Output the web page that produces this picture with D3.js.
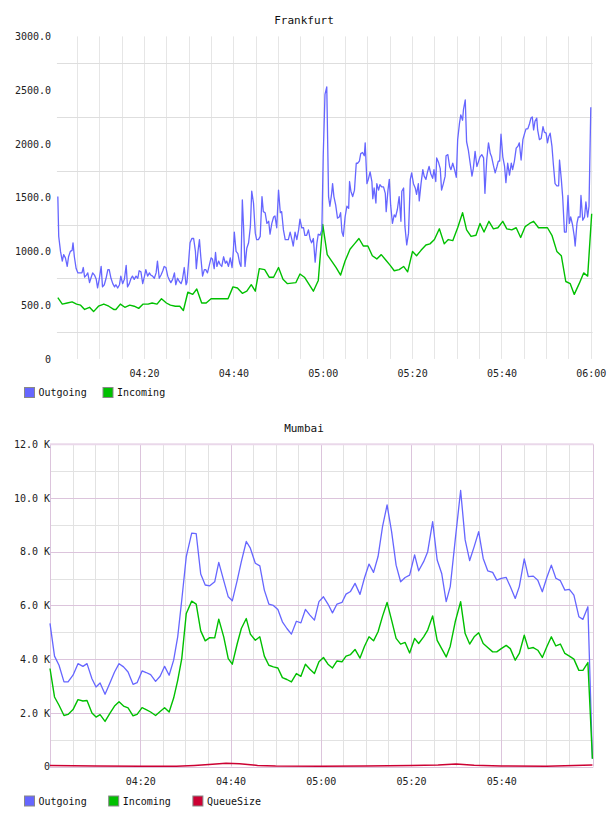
<!DOCTYPE html>
<html>
<head>
<meta charset="utf-8">
<script src="https://cdn.jsdelivr.net/npm/d3@7"></script>
<style>
  body { margin: 0; background: #fff; }
  text { font-family: "DejaVu Sans Mono", monospace; }
</style>
</head>
<body>
<div id="chart-container"></div>
<script>
const WIDTH = 608;
const HEIGHT = 816;

// time axis (minutes after 04:00)
const timeTicks = [20, 40, 60, 80, 100, 120];
const timeTickLabels = ["04:20", "04:40", "05:00", "05:20", "05:40", "06:00"];

// ---------- Frankfurt ----------
const frankfurtYTicks = [0, 500, 1000, 1500, 2000, 2500, 3000];
const frankfurtYGrid = [250, 750, 1250, 1750, 2250, 2750];

const frankfurtOutMinutes = [
  0.7,0.9,1.3,1.7,2.0,2.4,2.8,3.1,3.5,3.9,
  4.1,4.4,4.8,5.2,5.6,6.1,6.4,6.7,7.1,7.4,
  7.8,8.1,8.5,8.9,9.3,9.6,10.0,10.4,10.7,11.1,
  11.5,11.9,12.2,12.6,13.0,13.4,13.7,14.1,14.5,14.8,
  15.2,15.6,16.0,16.3,16.7,17.1,17.4,17.8,18.2,18.6,
  18.9,19.3,19.7,20.1,20.4,20.8,21.2,21.5,21.9,22.3,
  22.7,23.0,23.4,23.8,24.2,24.5,24.9,25.3,25.6,26.0,
  26.4,26.8,27.1,27.5,27.9,28.3,28.6,29.0,29.4,29.6,
  30.0,30.3,30.7,31.1,31.5,31.7,32.1,32.4,32.7,33.1,
  33.5,33.8,34.2,34.6,35.0,35.3,35.7,36.0,36.3,36.7,
  37.0,37.4,37.8,38.2,38.5,38.9,39.3,39.7,40.0,40.2,
  40.6,41.0,41.4,41.7,42.0,42.3,42.6,43.0,43.4,43.8,
  44.1,44.5,44.9,45.2,45.6,46.0,46.4,46.7,47.1,47.5,
  47.9,48.2,48.6,49.0,49.3,49.7,50.1,50.5,50.8,51.2,
  51.6,51.9,52.3,52.7,53.1,53.4,53.8,54.2,54.6,54.9,
  55.3,55.7,56.0,56.4,56.8,57.2,57.5,57.9,58.3,58.7,
  59.0,59.4,59.8,60.1,60.5,60.9,
  61.3,61.6,62.0,62.2,62.5,62.9,63.3,63.7,64.0,64.3,
  64.6,65.0,65.4,65.8,66.0,66.3,66.7,67.1,67.5,67.8,
  68.2,68.5,68.9,69.3,69.5,69.9,70.2,70.6,71.0,71.2,
  71.5,71.9,72.1,72.5,72.8,73.2,73.6,74.0,74.2,74.6,
  74.9,75.2,75.6,76.0,76.3,76.7,77.1,77.5,77.7,78.1,
  78.4,78.8,79.2,79.6,79.9,80.3,80.7,81.0,81.4,81.6,
  82.0,82.4,82.7,83.1,83.4,83.8,84.2,84.6,84.9,85.3,
  85.5,85.9,86.3,86.6,87.0,87.4,87.6,88.0,88.4,88.7,
  89.1,89.5,89.9,90.2,90.6,90.9,91.3,91.5,91.9,92.2,
  92.6,93.0,93.4,93.7,94.1,94.5,94.9,95.2,95.6,96.0,
  96.3,96.7,97.1,97.5,97.8,98.2,98.6,99.0,99.3,99.6,
  99.9,100.3,100.7,101.0,101.4,101.8,102.2,102.5,102.9,103.3,
  103.7,104.0,104.4,104.8,105.2,105.5,105.9,106.3,106.6,106.9,
  107.2,107.5,107.9,108.1,108.5,108.9,109.3,109.6,110.0,110.3,
  110.6,110.9,111.3,111.6,112.0,112.4,112.8,113.0,113.4,113.7,
  114.1,114.5,114.9,115.2,115.5,115.9,116.3,116.5,116.9,117.2,
  117.6,117.8,118.2,118.6,118.9,119.3,119.6,120.0
];
const frankfurtOutValues = [
  1510,1140,1000,910,970,940,860,950,1000,1010,
  1080,950,840,800,800,800,850,760,780,800,
  710,750,800,780,740,660,750,860,670,690,
  750,830,830,750,700,670,690,660,690,770,
  700,740,870,670,700,750,770,740,770,750,
  820,810,700,770,830,770,800,780,770,750,
  800,910,750,780,820,860,850,770,740,710,
  740,800,690,750,720,700,740,850,690,710,
  920,1080,1120,1120,1000,840,1010,1110,950,770,
  830,830,800,870,940,930,840,990,860,910,
  880,860,950,890,910,860,940,850,1010,1180,
  1000,980,890,860,1480,1200,860,1030,1080,1230,
  1560,1450,1170,1110,1110,1140,1510,1370,1360,1260,
  1280,1160,1260,1320,1330,1220,1570,1360,1370,1200,
  1110,1110,1110,1180,1110,1050,1180,1110,1200,1300,
  1220,1220,1150,1150,1200,1110,1080,1120,900,1080,
  1160,1150,1200,1880,2460,2530,
  1510,1420,1540,1630,1510,1430,1310,1320,1360,1180,
  1140,1320,1420,1400,1650,1560,1510,1570,1820,1820,
  1840,1910,1920,1890,2010,1630,1670,1740,1650,1490,
  1590,1450,1630,1570,1620,1600,1600,1540,1370,1570,
  1670,1430,1260,1340,1320,1390,1510,1280,1560,1590,
  1230,1060,1170,1670,1730,1630,1590,1530,1630,1470,
  1630,1760,1700,1670,1730,1790,1720,1680,1760,1650,
  1870,1830,1770,1570,1630,1700,1890,1900,1790,1760,
  1820,1760,1690,2040,2190,2270,2220,2320,2410,2020,
  1940,1820,1700,1770,1930,1790,1840,1880,1900,1870,
  1540,1850,2010,1910,1880,1800,1730,1790,1840,1840,
  2090,1880,1790,1640,1820,1710,1820,1760,1840,1960,
  1980,2010,1850,2040,2100,2140,2140,2190,2240,2250,
  2130,2210,2240,2130,2040,2050,2160,2110,2100,2010,
  2070,2100,1980,1820,1630,1610,1610,1850,1670,1510,
  1180,1180,1520,1260,1320,1250,1140,1050,1260,1320,
  1320,1520,1290,1320,1460,1320,1420,2340
];

const frankfurtInMinutes = [
  0.7,1.7,2.8,3.9,4.9,5.8,6.7,7.8,8.7,9.8,
  11.0,12.1,13.2,13.7,14.7,15.7,16.8,17.8,18.8,19.8,
  20.9,21.8,22.9,23.9,25.0,25.9,27.0,28.0,28.8,29.8,
  30.9,31.8,32.9,33.9,35.0,36.1,37.2,38.8,39.9,40.9,
  42.0,43.0,44.0,44.9,45.8,47.0,48.0,49.0,50.1,51.1,
  52.1,54.0,54.9,55.9,57.9,59.0,60.0,61.0,62.0,63.0,
  64.0,65.0,66.1,67.1,68.1,69.1,70.1,71.1,72.1,73.1,
  74.1,75.1,76.0,77.1,78.1,79.0,80.1,81.0,82.0,83.1,
  84.0,85.0,86.1,87.2,88.1,89.1,90.2,91.3,92.2,93.2,
  94.3,95.2,96.1,97.2,98.2,99.2,100.3,101.2,102.3,103.3,
  104.3,105.3,106.3,107.2,108.3,109.3,110.3,111.3,112.4,113.4,
  114.4,115.4,116.3,117.4,118.4,119.3,120.2
];
const frankfurtInValues = [
  570,510,520,530,510,500,460,480,440,490,
  510,490,460,460,510,480,500,490,470,510,
  510,520,510,560,520,500,490,490,450,620,
  600,650,520,520,560,560,560,560,670,660,
  610,630,690,630,840,830,760,760,850,740,
  700,710,790,760,630,730,1250,970,910,850,
  780,910,1020,1070,1120,1050,1050,960,930,970,
  920,870,820,830,860,810,1000,960,1010,1060,
  1070,1110,1210,1070,1110,1100,1220,1360,1200,1140,
  1150,1260,1180,1280,1210,1220,1280,1210,1200,1220,
  1130,1230,1260,1280,1220,1220,1220,1150,1000,960,
  720,700,600,700,800,770,1350
];

// ---------- Mumbai (values in thousands) ----------
const mumbaiYTicks = [0, 2, 4, 6, 8, 10, 12];
const mumbaiYMinor = [1, 3, 5, 7, 9, 11];

const mumbaiMinutes = [
  0.0,1.0,2.0,3.1,4.0,5.1,6.2,7.3,8.2,9.3,
  10.2,11.1,12.2,13.3,14.3,15.3,16.3,17.3,18.4,19.3,
  20.4,21.3,22.3,23.4,24.4,25.4,26.4,27.4,28.3,29.2,
  30.2,31.4,32.4,33.4,34.4,35.4,36.5,37.4,38.5,39.5,
  40.4,41.5,42.4,43.5,44.4,45.5,46.5,47.5,48.5,49.5,
  50.5,51.5,52.5,53.5,54.6,55.6,56.6,57.6,58.6,59.6,
  60.6,61.6,62.6,63.6,64.7,65.6,66.6,67.6,68.7,69.7,
  70.7,71.7,72.7,73.7,74.7,75.7,76.7,77.7,78.7,79.7,
  80.8,81.7,82.8,83.7,84.8,85.8,86.8,87.8,88.7,89.8,
  91.0,92.0,93.0,94.0,95.0,96.0,97.0,98.1,99.0,100.0,
  101.1,102.0,103.1,104.0,105.1,106.0,107.1,108.1,109.1,110.1,
  111.1,112.1,113.1,114.1,115.1,116.1,117.2,118.1,119.2,120.2
];
const mumbaiOutValues = [
  5.33,4.11,3.77,3.15,3.15,3.40,3.83,3.73,3.83,3.27,
  2.96,3.11,2.69,3.12,3.52,3.83,3.71,3.52,3.06,3.12,
  3.56,3.50,3.42,3.17,3.36,3.73,3.40,3.96,4.83,6.20,
  7.82,8.69,8.67,7.17,6.76,6.73,6.88,7.60,6.92,6.32,
  6.17,6.94,7.63,8.38,8.13,7.57,7.47,6.57,6.05,6.00,
  5.85,5.39,5.14,4.93,5.41,5.35,5.85,5.64,5.45,6.14,
  6.32,6.05,5.72,6.05,6.11,6.42,6.52,6.82,6.41,7.03,
  7.54,7.23,7.82,8.94,9.74,8.75,7.50,6.88,7.04,7.13,
  7.88,7.29,7.63,8.00,9.12,7.69,7.19,6.14,6.70,8.44,
  10.28,8.44,7.67,8.19,8.75,7.75,7.29,7.23,6.94,7.01,
  7.04,6.70,6.26,6.70,7.73,7.07,7.09,6.94,6.51,7.04,
  7.50,7.01,6.92,6.57,6.60,6.38,5.58,5.48,5.95,0.29
];
const mumbaiInValues = [
  3.65,2.59,2.28,1.90,1.94,2.12,2.49,2.44,2.46,1.99,
  1.84,1.93,1.68,1.99,2.25,2.41,2.25,2.18,1.89,1.94,
  2.19,2.12,2.03,1.90,2.05,2.19,2.03,2.55,3.21,4.02,
  5.70,6.16,6.05,5.05,4.68,4.80,4.79,5.49,4.83,4.02,
  3.81,4.58,5.14,5.51,4.93,4.70,4.83,4.11,3.77,3.71,
  3.67,3.31,3.24,3.15,3.46,3.36,3.81,3.62,3.46,3.90,
  4.06,3.81,3.67,3.93,3.90,4.11,4.17,4.36,4.04,4.48,
  4.83,4.68,5.02,5.60,6.11,5.45,4.77,4.56,4.62,4.23,
  4.77,4.58,4.83,5.08,5.61,4.70,4.39,4.08,4.48,5.39,
  6.14,4.95,4.56,4.83,4.98,4.58,4.43,4.27,4.27,4.39,
  4.51,4.39,3.96,4.21,4.89,4.39,4.43,4.33,4.06,4.46,
  4.83,4.49,4.56,4.21,4.11,4.00,3.58,3.58,3.87,0.29
];
const queueMinutes = [0, 10, 20, 28, 32, 36, 39, 42, 46, 50, 60, 70, 80, 86, 90, 94, 100, 110, 120.2];
const queueValues = [0.04, 0.02, 0.01, 0.01, 0.04, 0.08, 0.12, 0.10, 0.04, 0.02, 0.01, 0.02, 0.04, 0.06, 0.09, 0.05, 0.02, 0.01, 0.06];

const COLORS = { out: "#6666ff", inc: "#00c000", queue: "#cc0033" };

const svg = d3.select("#chart-container").append("svg")
  .attr("width", WIDTH)
  .attr("height", HEIGHT);
svg.append("rect").attr("width", "100%").attr("height", "100%").attr("fill", "#fff");

drawFrankfurt();
drawMumbai();

function crisp(v) { return Math.round(v) + 0.5; }

function drawSeries(g, x, y, minutes, values, color, width) {
  const line = d3.line().x(d => x(d[0])).y(d => y(d[1]));
  g.append("path")
    .datum(d3.zip(minutes, values))
    .attr("fill", "none")
    .attr("stroke", color)
    .attr("stroke-width", width)
    .attr("stroke-linejoin", "round")
    .attr("d", line);
}

function drawAxes(g, x, y, xTicks, yFormat, yTicks, yAxisX) {
  const xAxis = g.append("g")
    .attr("transform", `translate(0,${y.range()[0]})`)
    .call(d3.axisBottom(x).tickValues(xTicks)
      .tickFormat(d => timeTickLabels[timeTicks.indexOf(d)])
      .tickSize(0).tickPadding(11));
  const yAxis = g.append("g")
    .attr("transform", `translate(${yAxisX},0)`)
    .call(d3.axisLeft(y).tickValues(yTicks).tickFormat(yFormat).tickSize(0).tickPadding(0));
  [xAxis, yAxis].forEach(a => {
    a.select(".domain").remove();
    a.selectAll("text")
      .attr("fill", "#222")
      .style("font-family", "'DejaVu Sans Mono', monospace")
      .style("font-size", "10px");
  });
}

function drawTitle(label, yPos) {
  svg.append("text")
    .attr("x", WIDTH / 2).attr("y", yPos)
    .attr("text-anchor", "middle")
    .style("font-size", "11px")
    .attr("fill", "#111")
    .text(label);
}

function drawLegend(items, x0, y0, step) {
  const lg = svg.append("g").attr("transform", `translate(${x0},${y0})`);
  const item = lg.selectAll("g").data(items).join("g")
    .attr("transform", (d, i) => `translate(${i * step},0)`);
  item.append("rect")
    .attr("x", 0.5).attr("y", 0.5).attr("width", 10).attr("height", 10)
    .attr("fill", d => d.color).attr("stroke", "#888");
  item.append("text")
    .attr("x", 14.5).attr("y", 9)
    .style("font-size", "10px")
    .attr("fill", "#111")
    .text(d => d.name);
}

function drawFrankfurt() {
  const x = d3.scaleLinear().domain([0, 120]).range([54.7, 590.8]);
  const y = d3.scaleLinear().domain([0, 3000]).range([358.9, 36.4]);
  const g = svg.append("g");

  // grid
  g.selectAll(".vgrid").data(d3.range(5, 121, 5)).join("line")
    .attr("x1", d => crisp(x(d))).attr("x2", d => crisp(x(d)))
    .attr("y1", y(3000)).attr("y2", y(0))
    .attr("stroke", "#e6e6e6");
  g.selectAll(".hgrid").data(frankfurtYGrid).join("line")
    .attr("x1", x(0.5)).attr("x2", x(120.4))
    .attr("y1", d => crisp(y(d))).attr("y2", d => crisp(y(d)))
    .attr("stroke", "#dedede");

  drawSeries(g, x, y, frankfurtInMinutes, frankfurtInValues, COLORS.inc, 1.4);
  drawSeries(g, x, y, frankfurtOutMinutes, frankfurtOutValues, COLORS.out, 1.3);

  drawAxes(g, x, y, timeTicks, d => d === 0 ? "0" : d.toFixed(1), frankfurtYTicks, 51);
  drawTitle("Frankfurt", 24);
  drawLegend([{ name: "Outgoing", color: COLORS.out }, { name: "Incoming", color: COLORS.inc }], 24, 387, 78.5);
}

function drawMumbai() {
  const x = d3.scaleLinear().domain([0, 120]).range([50, 591.5]);
  const y = d3.scaleLinear().domain([0, 12]).range([766.5, 444.3]);
  const g = svg.append("g");
  const major = "#dcc4dc";
  const minor = "#e2e2e2";

  // minor grid
  g.selectAll(".vminor").data(d3.range(5, 120, 5).filter(d => d % 20 !== 0)).join("line")
    .attr("x1", d => crisp(x(d))).attr("x2", d => crisp(x(d)))
    .attr("y1", y(12)).attr("y2", y(0))
    .attr("stroke", minor);
  g.selectAll(".hminor").data(mumbaiYMinor).join("line")
    .attr("x1", x(0)).attr("x2", x(120.4))
    .attr("y1", d => crisp(y(d))).attr("y2", d => crisp(y(d)))
    .attr("stroke", minor);
  // major grid
  g.selectAll(".vmajor").data([0, 20, 40, 60, 80, 100, 120.4]).join("line")
    .attr("x1", d => crisp(x(d))).attr("x2", d => crisp(x(d)))
    .attr("y1", y(12)).attr("y2", y(0))
    .attr("stroke", major);
  g.selectAll(".hmajor").data([0, 2, 4, 6, 8, 10]).join("line")
    .attr("x1", x(0)).attr("x2", x(120.4))
    .attr("y1", d => crisp(y(d))).attr("y2", d => crisp(y(d)))
    .attr("stroke", major);
  g.append("line")
    .attr("x1", x(0)).attr("x2", x(120.4))
    .attr("y1", y(12)).attr("y2", y(12))
    .attr("stroke", "#ead8ea").attr("stroke-width", 2);

  drawSeries(g, x, y, mumbaiMinutes, mumbaiOutValues, COLORS.out, 1.3);
  drawSeries(g, x, y, mumbaiMinutes, mumbaiInValues, COLORS.inc, 1.4);
  drawSeries(g, x, y, queueMinutes, queueValues, COLORS.queue, 1.5);

  drawAxes(g, x, y, timeTicks.slice(0, 5), d => d === 0 ? "0" : d.toFixed(1) + " K", mumbaiYTicks, 50);
  drawTitle("Mumbai", 432);
  drawLegend([
    { name: "Outgoing", color: COLORS.out },
    { name: "Incoming", color: COLORS.inc },
    { name: "QueueSize", color: COLORS.queue }
  ], 24, 795.5, 84.2);
}
</script>
</body>
</html>
